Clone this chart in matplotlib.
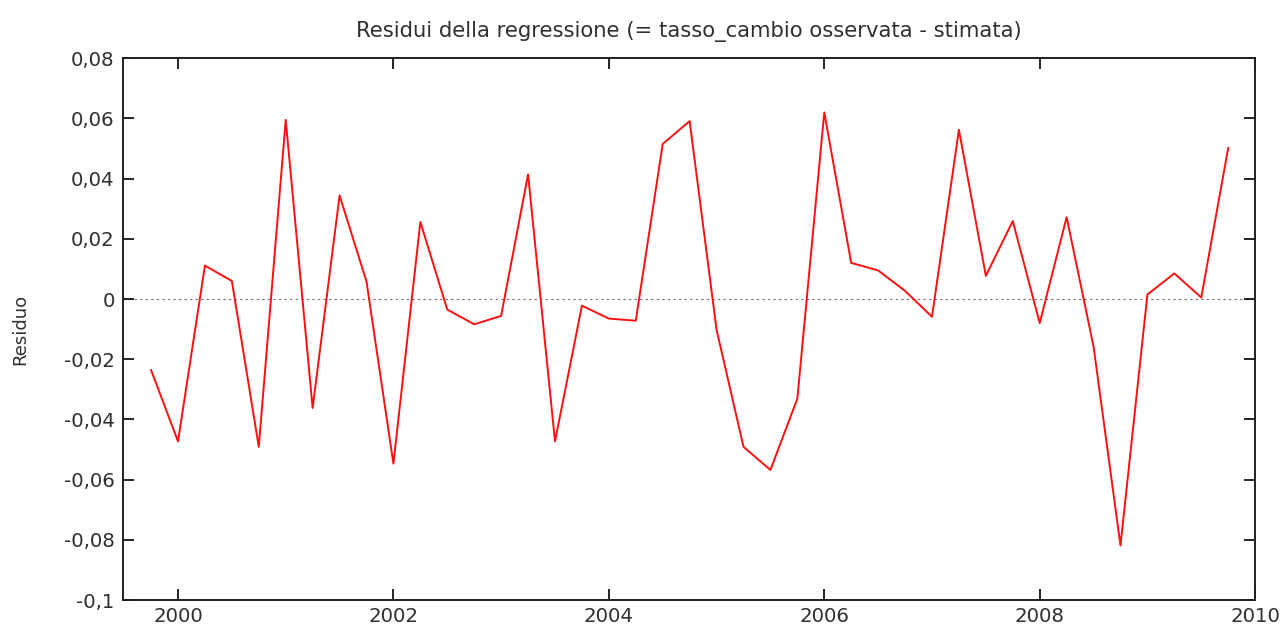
import numpy as np
import matplotlib
matplotlib.use("Agg")
import matplotlib.pyplot as plt
from matplotlib.ticker import FuncFormatter

# Quarterly residuals, 1999:4 - 2009:4
start_year = 1999.75
residui = [
    -0.0236, -0.0473, 0.0111, 0.0060, -0.0491, 0.0595, -0.0362, 0.0344,
    0.0058, -0.0547, 0.0256, -0.0035, -0.0084, -0.0056, 0.0414, -0.0473,
    -0.0022, -0.0065, -0.0072, 0.0515, 0.0591, -0.0102, -0.0491, -0.0568,
    -0.0331, 0.0620, 0.0120, 0.0095, 0.0027, -0.0059, 0.0562, 0.0077,
    0.0259, -0.0080, 0.0272, -0.0158, -0.0819, 0.0015, 0.0085, 0.0005,
    0.0502,
]
x_ticks = [2000, 2002, 2004, 2006, 2008, 2010]
y_ticks = [-0.1, -0.08, -0.06, -0.04, -0.02, 0, 0.02, 0.04, 0.06, 0.08]

title = "Residui della regressione (= tasso_cambio osservata - stimata)"
ylabel = "Residuo"

t = start_year + 0.25 * np.arange(len(residui))

plt.rcParams["font.family"] = ["DejaVu Sans"]

fig = plt.figure(figsize=(12.86, 6.26), dpi=100)
ax = fig.add_axes([0.0957, 0.0415, 0.8803, 0.8655])

ax.axhline(0, color="#707070", lw=0.8, ls=(0, (2, 3)), zorder=1)
ax.plot(t, residui, color="#ff1010", lw=1.4, zorder=2)

ax.set_xlim(1999.49, 2010.0)
ax.set_ylim(-0.1, 0.08)
ax.set_xticks(x_ticks)
ax.set_yticks(y_ticks)


def it_fmt(v, pos):
    if abs(v) < 1e-12:
        return "0"
    s = ("%.2f" % v).rstrip("0").rstrip(".")
    return s.replace(".", ",")


ax.yaxis.set_major_formatter(FuncFormatter(it_fmt))
ax.xaxis.set_major_formatter(FuncFormatter(lambda v, p: "%d" % round(v)))

ax.tick_params(direction="in", length=8, width=1.2, top=True, right=True,
               labelsize=14.2, labelcolor="#303030", pad=6)
ax.tick_params(axis="x", pad=5)
for sp in ax.spines.values():
    sp.set_linewidth(1.4)
    sp.set_color("#202020")

ax.set_title(title, fontsize=15.2, color="#303030", pad=15)
ax.set_ylabel(ylabel, fontsize=13, color="#303030")
ax.yaxis.set_label_coords(-0.083, 0.5)

fig.savefig("out.png", dpi=100)
